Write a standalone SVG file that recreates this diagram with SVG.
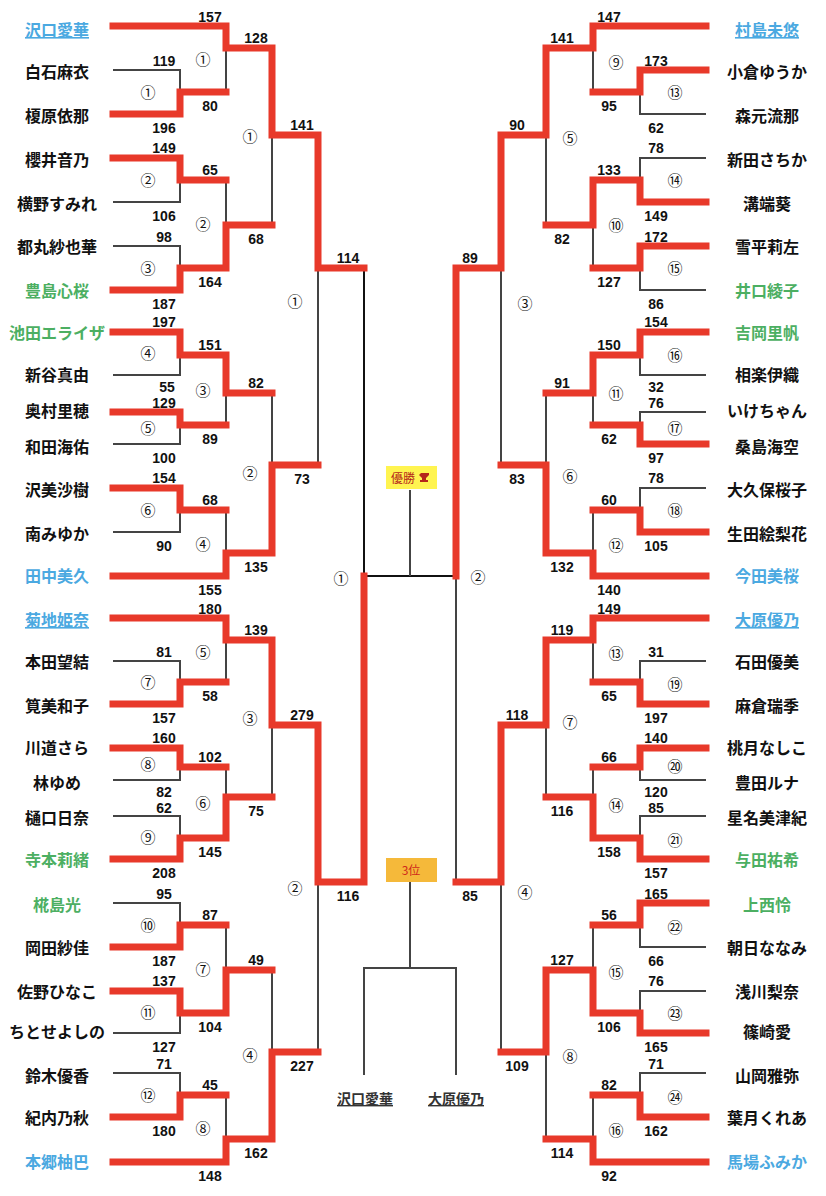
<svg xmlns="http://www.w3.org/2000/svg" width="826" height="1196" viewBox="0 0 826 1196">
<style>
.w{stroke:#e8392a;stroke-width:7;stroke-linecap:square;fill:none}
.l{stroke:#444;stroke-width:2;fill:none}
.k{stroke:#111;stroke-width:2;fill:none}
.s{font-family:"Liberation Sans",Arial,sans-serif;font-weight:bold;font-size:14px;fill:#111;text-anchor:middle}
.c{font-family:"Noto Sans CJK JP","Noto Sans",sans-serif;font-size:15px;fill:#111;text-anchor:middle}
.n{font-family:"Noto Sans CJK JP",sans-serif;font-weight:bold;font-size:16px;fill:#111;text-anchor:middle}
.b{fill:#4ba9e1}.g{fill:#4caf62}.u{text-decoration:underline}
</style>
<rect width="826" height="1196" fill="#fff"/>
<g id="connectors">
<path class="l" d="M113 70H180V92M113 202H180V180M113 246H180V268M113 375H180V355M113 444H180V425M113 532H180V510M113 661H180V682M113 780H180V767M113 816H180V838M113 903H180V925M113 1033H180V1013M113 1073H180V1095"/>
<path class="l" d="M226 92V48M226 180V225M226 425V393M226 510V553M226 682V640M226 767V797M226 925V970M226 1095V1139"/>
<path class="l" d="M272 225V135M272 393V465M272 797V725M272 970V1052M318 465V268M318 1052V882"/>
<path class="k" d="M364 268V576H456"/>
<path class="l" d="M456 576V882"/>
<path class="l" d="M706 114H640V92M706 158H640V180M706 290H640V268M706 375H640V355M706 412H640V425M706 488H640V510M706 661H640V682M706 780H640V767M706 816H640V838M706 947H640V925M706 991H640V1013M706 1073H640V1095"/>
<path class="l" d="M593 92V48M593 268V225M593 425V393M593 510V553M593 682V640M593 767V797M593 925V970M593 1095V1139"/>
<path class="l" d="M546 225V135M546 393V465M546 797V725M546 1139V1052M501 465V268M501 1052V882"/>
<path class="l" d="M410 490V576M410 882V968M364 1075V968H456V1075"/>
<path class="w" d="M113 26H226V48H272V135H318V268H364"/>
<path class="w" d="M113 114H180V92H226"/>
<path class="w" d="M113 158H180V180H226"/>
<path class="w" d="M113 290H180V268H226V225H272"/>
<path class="w" d="M113 332H180V355H226V393H272"/>
<path class="w" d="M113 412H180V425H226"/>
<path class="w" d="M113 488H180V510H226"/>
<path class="w" d="M113 576H226V553H272V465H318"/>
<path class="w" d="M113 618H226V640H272V725H318V882H364V576"/>
<path class="w" d="M113 704H180V682H226"/>
<path class="w" d="M113 748H180V767H226"/>
<path class="w" d="M113 859H180V838H226V797H272"/>
<path class="w" d="M113 947H180V925H226"/>
<path class="w" d="M113 991H180V1013H226V970H272"/>
<path class="w" d="M113 1117H180V1095H226"/>
<path class="w" d="M113 1162H226V1139H272V1052H318"/>
<path class="w" d="M706 26H593V48H546V135H501V268H456V576"/>
<path class="w" d="M706 70H640V92H593"/>
<path class="w" d="M706 202H640V180H593V225H546"/>
<path class="w" d="M706 246H640V268H593"/>
<path class="w" d="M706 332H640V355H593V393H546"/>
<path class="w" d="M706 444H640V425H593"/>
<path class="w" d="M706 532H640V510H593"/>
<path class="w" d="M706 576H593V553H546V465H501"/>
<path class="w" d="M706 618H593V640H546V725H501V882H456"/>
<path class="w" d="M706 704H640V682H593"/>
<path class="w" d="M706 748H640V767H593"/>
<path class="w" d="M706 859H640V838H593V797H546"/>
<path class="w" d="M706 903H640V925H593"/>
<path class="w" d="M706 1033H640V1013H593V970H546V1052H501"/>
<path class="w" d="M706 1117H640V1095H593"/>
<path class="w" d="M706 1162H593V1139H546"/>
</g>
<g id="scores">
<text class="s" x="164" y="66">119</text><text class="s" x="164" y="133">196</text>
<text class="s" x="164" y="153">149</text><text class="s" x="164" y="221">106</text>
<text class="s" x="164" y="242">98</text><text class="s" x="164" y="309">187</text>
<text class="s" x="164" y="327">197</text><text class="s" x="167" y="392">55</text>
<text class="s" x="164" y="408">129</text><text class="s" x="164" y="463">100</text>
<text class="s" x="164" y="483">154</text><text class="s" x="164" y="551">90</text>
<text class="s" x="164" y="657">81</text><text class="s" x="164" y="723">157</text>
<text class="s" x="164" y="743">160</text><text class="s" x="164" y="797">82</text>
<text class="s" x="164" y="813">62</text><text class="s" x="164" y="878">208</text>
<text class="s" x="164" y="899">95</text><text class="s" x="164" y="966">187</text>
<text class="s" x="164" y="986">137</text><text class="s" x="164" y="1052">127</text>
<text class="s" x="164" y="1069">71</text><text class="s" x="164" y="1136">180</text>
<text class="s" x="210" y="22">157</text><text class="s" x="210" y="111">80</text>
<text class="s" x="210" y="175">65</text><text class="s" x="210" y="287">164</text>
<text class="s" x="210" y="350">151</text><text class="s" x="210" y="444">89</text>
<text class="s" x="210" y="505">68</text><text class="s" x="210" y="595">155</text>
<text class="s" x="210" y="614">180</text><text class="s" x="210" y="701">58</text>
<text class="s" x="210" y="762">102</text><text class="s" x="210" y="857">145</text>
<text class="s" x="210" y="920">87</text><text class="s" x="210" y="1032">104</text>
<text class="s" x="210" y="1090">45</text><text class="s" x="210" y="1181">148</text>
<text class="s" x="256" y="43">128</text><text class="s" x="256" y="244">68</text>
<text class="s" x="256" y="388">82</text><text class="s" x="256" y="572">135</text>
<text class="s" x="256" y="635">139</text><text class="s" x="256" y="816">75</text>
<text class="s" x="256" y="965">49</text><text class="s" x="256" y="1158">162</text>
<text class="s" x="302" y="130">141</text><text class="s" x="302" y="484">73</text>
<text class="s" x="302" y="720">279</text><text class="s" x="302" y="1071">227</text>
<text class="s" x="348" y="263">114</text><text class="s" x="348" y="901">116</text>
<text class="s" x="656" y="66">173</text><text class="s" x="656" y="133">62</text>
<text class="s" x="656" y="153">78</text><text class="s" x="656" y="221">149</text>
<text class="s" x="656" y="242">172</text><text class="s" x="656" y="309">86</text>
<text class="s" x="656" y="327">154</text><text class="s" x="656" y="392">32</text>
<text class="s" x="656" y="408">76</text><text class="s" x="656" y="463">97</text>
<text class="s" x="656" y="483">78</text><text class="s" x="656" y="551">105</text>
<text class="s" x="656" y="657">31</text><text class="s" x="656" y="723">197</text>
<text class="s" x="656" y="743">140</text><text class="s" x="656" y="797">120</text>
<text class="s" x="656" y="813">85</text><text class="s" x="656" y="878">157</text>
<text class="s" x="656" y="899">165</text><text class="s" x="656" y="966">66</text>
<text class="s" x="656" y="986">76</text><text class="s" x="656" y="1052">165</text>
<text class="s" x="656" y="1069">71</text><text class="s" x="656" y="1136">162</text>
<text class="s" x="609" y="22">147</text><text class="s" x="609" y="111">95</text>
<text class="s" x="609" y="175">133</text><text class="s" x="609" y="287">127</text>
<text class="s" x="609" y="350">150</text><text class="s" x="609" y="444">62</text>
<text class="s" x="609" y="505">60</text><text class="s" x="609" y="595">140</text>
<text class="s" x="609" y="614">149</text><text class="s" x="609" y="701">65</text>
<text class="s" x="609" y="762">66</text><text class="s" x="609" y="857">158</text>
<text class="s" x="609" y="920">56</text><text class="s" x="609" y="1032">106</text>
<text class="s" x="609" y="1090">82</text><text class="s" x="609" y="1181">92</text>
<text class="s" x="562" y="43">141</text><text class="s" x="562" y="244">82</text>
<text class="s" x="562" y="388">91</text><text class="s" x="562" y="572">132</text>
<text class="s" x="562" y="635">119</text><text class="s" x="562" y="816">116</text>
<text class="s" x="562" y="965">127</text><text class="s" x="562" y="1158">114</text>
<text class="s" x="517" y="130">90</text><text class="s" x="517" y="484">83</text>
<text class="s" x="517" y="720">118</text><text class="s" x="517" y="1071">109</text>
<text class="s" x="470" y="263">89</text><text class="s" x="470" y="901">85</text>
</g>
<g id="match-numbers">
<text class="c" x="148" y="98">①</text><text class="c" x="148" y="186">②</text><text class="c" x="148" y="274">③</text>
<text class="c" x="148" y="359">④</text><text class="c" x="148" y="434">⑤</text><text class="c" x="148" y="516">⑥</text>
<text class="c" x="148" y="688">⑦</text><text class="c" x="148" y="770">⑧</text><text class="c" x="148" y="843">⑨</text>
<text class="c" x="148" y="931">⑩</text><text class="c" x="148" y="1018">⑪</text><text class="c" x="148" y="1101">⑫</text>
<text class="c" x="203" y="65">①</text><text class="c" x="203" y="230">②</text><text class="c" x="203" y="396">③</text>
<text class="c" x="203" y="550">④</text><text class="c" x="203" y="658">⑤</text><text class="c" x="203" y="809">⑥</text>
<text class="c" x="203" y="975">⑦</text><text class="c" x="203" y="1134">⑧</text>
<text class="c" x="250" y="142">①</text><text class="c" x="250" y="479">②</text><text class="c" x="250" y="724">③</text><text class="c" x="250" y="1061">④</text>
<text class="c" x="295" y="307">①</text><text class="c" x="295" y="894">②</text>
<text class="c" x="341" y="584">①</text>
<text class="c" x="675" y="98">⑬</text><text class="c" x="675" y="186">⑭</text><text class="c" x="675" y="274">⑮</text>
<text class="c" x="675" y="361">⑯</text><text class="c" x="675" y="434">⑰</text><text class="c" x="675" y="516">⑱</text>
<text class="c" x="675" y="690">⑲</text><text class="c" x="675" y="772">⑳</text><text class="c" x="675" y="846">㉑</text>
<text class="c" x="675" y="933">㉒</text><text class="c" x="675" y="1019">㉓</text><text class="c" x="675" y="1103">㉔</text>
<text class="c" x="616" y="68">⑨</text><text class="c" x="616" y="231">⑩</text><text class="c" x="616" y="399">⑪</text>
<text class="c" x="616" y="551">⑫</text><text class="c" x="616" y="659">⑬</text><text class="c" x="616" y="811">⑭</text>
<text class="c" x="616" y="978">⑮</text><text class="c" x="616" y="1136">⑯</text>
<text class="c" x="570" y="144">⑤</text><text class="c" x="570" y="482">⑥</text><text class="c" x="570" y="728">⑦</text><text class="c" x="570" y="1062">⑧</text>
<text class="c" x="525" y="309">③</text><text class="c" x="525" y="898">④</text>
<text class="c" x="478" y="583">②</text>
</g>
<g id="title-winner">
<rect x="386" y="466" width="51" height="23" fill="#fff450"/>
<text x="403" y="483" font-family="Noto Sans CJK JP,sans-serif" font-size="12" fill="#b5261a" text-anchor="middle">優勝</text>
<path d="M421 473h8v2l-3 3v2h2v2h-8v-2h2v-2l-3-3z" fill="#b5261a"/>
</g>
<g id="title-third">
<rect x="386" y="858" width="51" height="24" fill="#f5b93a"/>
<text x="411" y="875" font-family="Noto Sans CJK JP,sans-serif" font-size="12" fill="#d02a1a" text-anchor="middle">3位</text>
</g>
<g id="third-left"><text class="n u" x="365" y="1104" style="font-size:14px;fill:#333">沢口愛華</text></g>
<g id="third-right"><text class="n u" x="456" y="1104" style="font-size:14px;fill:#333">大原優乃</text></g>
<g id="left-players">
<g id="p-L1"><text class="n b u" x="57" y="36">沢口愛華</text></g>
<g id="p-L2"><text class="n" x="57" y="78">白石麻衣</text></g>
<g id="p-L3"><text class="n" x="57" y="122">榎原依那</text></g>
<g id="p-L4"><text class="n" x="57" y="166">櫻井音乃</text></g>
<g id="p-L5"><text class="n" x="57" y="210">横野すみれ</text></g>
<g id="p-L6"><text class="n" x="57" y="253">都丸紗也華</text></g>
<g id="p-L7"><text class="n g" x="57" y="297">豊島心桜</text></g>
<g id="p-L8"><text class="n g" x="57" y="339">池田エライザ</text></g>
<g id="p-L9"><text class="n" x="57" y="381">新谷真由</text></g>
<g id="p-L10"><text class="n" x="57" y="417">奥村里穂</text></g>
<g id="p-L11"><text class="n" x="57" y="453">和田海佑</text></g>
<g id="p-L12"><text class="n" x="57" y="496">沢美沙樹</text></g>
<g id="p-L13"><text class="n" x="57" y="540">南みゆか</text></g>
<g id="p-L14"><text class="n b" x="57" y="582">田中美久</text></g>
<g id="p-L15"><text class="n b u" x="57" y="626">菊地姫奈</text></g>
<g id="p-L16"><text class="n" x="57" y="668">本田望結</text></g>
<g id="p-L17"><text class="n" x="57" y="712">筧美和子</text></g>
<g id="p-L18"><text class="n" x="57" y="754">川道さら</text></g>
<g id="p-L19"><text class="n" x="57" y="789">林ゆめ</text></g>
<g id="p-L20"><text class="n" x="57" y="824">樋口日奈</text></g>
<g id="p-L21"><text class="n g" x="57" y="866">寺本莉緒</text></g>
<g id="p-L22"><text class="n g" x="57" y="911">椛島光</text></g>
<g id="p-L23"><text class="n" x="57" y="954">岡田紗佳</text></g>
<g id="p-L24"><text class="n" x="57" y="998">佐野ひなこ</text></g>
<g id="p-L25"><text class="n" x="57" y="1038">ちとせよしの</text></g>
<g id="p-L26"><text class="n" x="57" y="1082">鈴木優香</text></g>
<g id="p-L27"><text class="n" x="57" y="1124">紀内乃秋</text></g>
<g id="p-L28"><text class="n b" x="57" y="1168">本郷柚巴</text></g>
</g>
<g id="right-players">
<g id="p-R1"><text class="n b u" x="767" y="36">村島未悠</text></g>
<g id="p-R2"><text class="n" x="767" y="78">小倉ゆうか</text></g>
<g id="p-R3"><text class="n" x="767" y="122">森元流那</text></g>
<g id="p-R4"><text class="n" x="767" y="166">新田さちか</text></g>
<g id="p-R5"><text class="n" x="767" y="210">溝端葵</text></g>
<g id="p-R6"><text class="n" x="767" y="253">雪平莉左</text></g>
<g id="p-R7"><text class="n g" x="767" y="297">井口綾子</text></g>
<g id="p-R8"><text class="n g" x="767" y="339">吉岡里帆</text></g>
<g id="p-R9"><text class="n" x="767" y="381">相楽伊織</text></g>
<g id="p-R10"><text class="n" x="767" y="417">いけちゃん</text></g>
<g id="p-R11"><text class="n" x="767" y="453">桑島海空</text></g>
<g id="p-R12"><text class="n" x="767" y="496">大久保桜子</text></g>
<g id="p-R13"><text class="n" x="767" y="540">生田絵梨花</text></g>
<g id="p-R14"><text class="n b" x="767" y="582">今田美桜</text></g>
<g id="p-R15"><text class="n b u" x="767" y="626">大原優乃</text></g>
<g id="p-R16"><text class="n" x="767" y="668">石田優美</text></g>
<g id="p-R17"><text class="n" x="767" y="712">麻倉瑞季</text></g>
<g id="p-R18"><text class="n" x="767" y="754">桃月なしこ</text></g>
<g id="p-R19"><text class="n" x="767" y="789">豊田ルナ</text></g>
<g id="p-R20"><text class="n" x="767" y="824">星名美津紀</text></g>
<g id="p-R21"><text class="n g" x="767" y="866">与田祐希</text></g>
<g id="p-R22"><text class="n g" x="767" y="911">上西怜</text></g>
<g id="p-R23"><text class="n" x="767" y="954">朝日ななみ</text></g>
<g id="p-R24"><text class="n" x="767" y="998">浅川梨奈</text></g>
<g id="p-R25"><text class="n" x="767" y="1038">篠崎愛</text></g>
<g id="p-R26"><text class="n" x="767" y="1082">山岡雅弥</text></g>
<g id="p-R27"><text class="n" x="767" y="1124">葉月くれあ</text></g>
<g id="p-R28"><text class="n b" x="767" y="1168">馬場ふみか</text></g>
</g>
</svg>
